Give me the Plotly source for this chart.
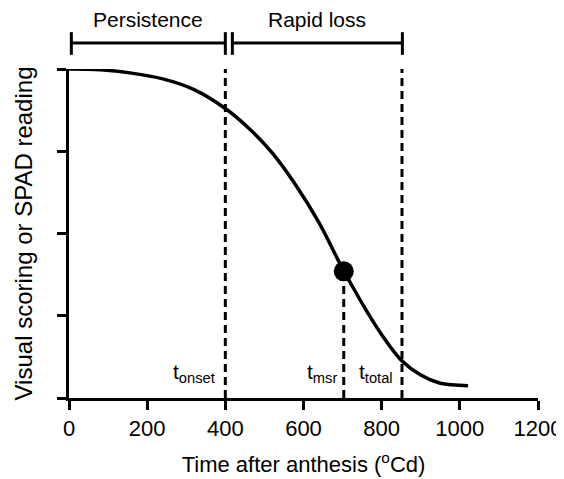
"""
Senescence curve: persistence and rapid loss phases
"""
import plotly.graph_objects as go

# curve (thermal time, relative reading)
time_cd = [0, 80, 160, 240, 320, 400, 460, 520, 580, 640, 700, 720, 760, 800, 850, 900, 950, 1000, 1021]
reading = [4.0, 3.99, 3.95, 3.88, 3.75, 3.52, 3.28, 2.98, 2.59, 2.13, 1.57, 1.40, 1.07, 0.77, 0.46, 0.28, 0.18, 0.155, 0.15]

t_onset = 400
t_msr = 703
t_total = 852
msr_value = 1.54

phase_names = ["Persistence", "Rapid loss"]
phase_starts = [6, 418]
phase_ends = [400, 853]

x_ticks = [0, 200, 400, 600, 800, 1000, 1200]
y_ticks = [0, 1, 2, 3, 4]
x_range = [0, 1200]
y_range = [0, 4]

FONT = "Liberation Sans, Arial, sans-serif"

fig = go.Figure()

fig.add_trace(
    go.Scatter(
        x=time_cd,
        y=reading,
        mode="lines",
        line=dict(color="black", width=3.5, shape="spline", smoothing=1.0),
        showlegend=False,
    )
)

# dashed markers of onset, msr and total
for t, top in [(t_onset, y_range[1]), (t_total, y_range[1]), (t_msr, msr_value)]:
    fig.add_trace(
        go.Scatter(
            x=[t, t],
            y=[0, top],
            mode="lines",
            line=dict(color="black", width=3, dash="8px,5px"),
            showlegend=False,
        )
    )

fig.add_trace(
    go.Scatter(
        x=[t_msr],
        y=[msr_value],
        mode="markers",
        marker=dict(color="black", size=20),
        showlegend=False,
    )
)


def to_paper(x):
    return (x - x_range[0]) / (x_range[1] - x_range[0])


# phase brackets above the plot
y_bar, y_lo, y_hi = 1.079, 1.043, 1.112
for name, a, b in zip(phase_names, phase_starts, phase_ends):
    xa, xb = to_paper(a), to_paper(b)
    fig.add_shape(type="line", xref="paper", yref="paper", x0=xa, x1=xb, y0=y_bar, y1=y_bar,
                  line=dict(color="black", width=3))
    for xe in (xa, xb):
        fig.add_shape(type="line", xref="paper", yref="paper", x0=xe, x1=xe, y0=y_lo, y1=y_hi,
                      line=dict(color="black", width=3))
    fig.add_annotation(
        x=(xa + xb) / 2, y=1.149, xref="paper", yref="paper", xanchor="center", yanchor="middle",
        text=name, showarrow=False, font=dict(size=21, color="black", family=FONT),
    )

for label, x in [("t<sub>onset</sub>", 379), ("t<sub>msr</sub>", 692), ("t<sub>total</sub>", 833)]:
    fig.add_annotation(
        x=x, y=0.12, xref="x", yref="y", xanchor="right", yanchor="bottom",
        text=label, showarrow=False, font=dict(size=21, color="black", family=FONT),
    )

fig.update_xaxes(
    range=x_range,
    tickvals=x_ticks,
    ticks="outside",
    ticklen=9,
    tickwidth=3,
    tickcolor="black",
    showline=True,
    linewidth=3,
    linecolor="black",
    showgrid=False,
    zeroline=False,
    automargin=False,
    tickfont=dict(size=22, color="black", family=FONT),
    title=dict(text="Time after anthesis (<sup>o</sup>Cd)", font=dict(size=22, color="black", family=FONT),
               standoff=17),
)
fig.update_yaxes(
    range=y_range,
    tickvals=y_ticks,
    showticklabels=False,
    ticks="outside",
    ticklen=9,
    tickwidth=3,
    tickcolor="black",
    showline=True,
    linewidth=3,
    linecolor="black",
    showgrid=False,
    zeroline=False,
    automargin=False,
    title=dict(text="Visual scoring or SPAD reading", font=dict(size=24, color="black", family=FONT),
               standoff=18),
)

fig.update_layout(
    width=556,
    height=471,
    margin=dict(l=61, r=26, t=61, b=81),
    paper_bgcolor="white",
    plot_bgcolor="white",
    font=dict(family=FONT, color="black"),
)

fig.write_html("out.html")
